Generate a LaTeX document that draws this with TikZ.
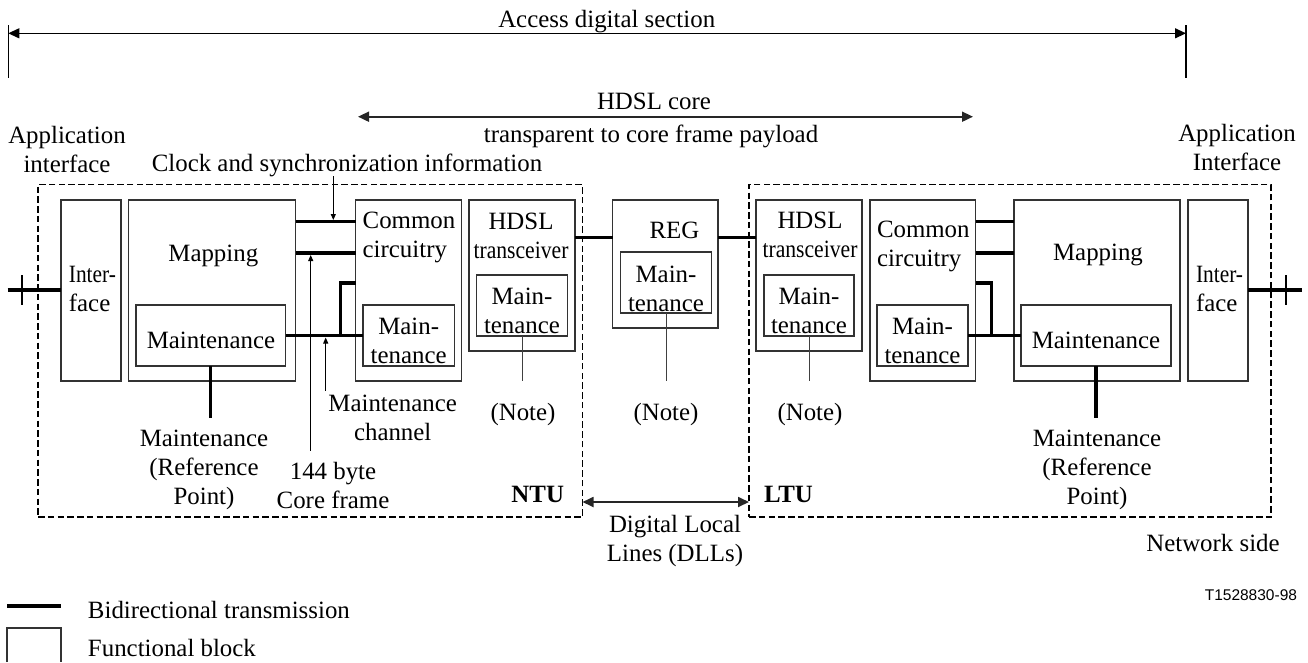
\documentclass[tikz,border=0pt]{standalone}
\usepackage{fontspec}
\setmainfont{Liberation Serif}
\setsansfont{Liberation Sans}
\usetikzlibrary{arrows.meta}
\begin{document}
\begin{tikzpicture}
[x=0.4pt,y=-0.4pt,
  font=\fontsize{9.95}{11.6}\selectfont,
  every node/.style={inner sep=0pt,outer sep=0pt},
  blockdecorate/.style={shape=rectangle,draw=black!80,line width=0.5pt},%
  unitdecorate/.style={shape=rectangle,draw,line width=0.55pt,dash pattern=on 2.6pt off 1.3pt},%
  textdecorate/.style={align=center},%
  bidirdecorate/.style={-,line width=1.35pt},%
  notedecorate/.style={-,line width=0.4pt,black!75},%
  tickdecorate/.style={-,line width=0.45pt},%
  pointdecorate/.style={-{Triangle[length=2.4pt,width=2pt]},line width=0.4pt},%
  spandecorate/.style={{Triangle[length=4.4pt,width=4pt]}-{Triangle[length=4.4pt,width=4pt]},line width=0.5pt}]
\useasboundingbox (0,0) rectangle (1308,662);
%% NTU and LTU frames
\foreach \nodename/\xa/\ya/\xb/\yb in {
  ntu/38/184.5/582.5/517, ltu/749/184.5/1271/517}
{
  \node (\nodename) at ({(\xa+\xb)/2},{(\ya+\yb)/2}) [unitdecorate,
    minimum width={(\xb-\xa)*0.4pt}, minimum height={(\yb-\ya)*0.4pt}] {};
}
%% functional blocks
\foreach \nodename/\xa/\ya/\xb/\yb in {
  ifl/61/200/121/381, mapl/128.5/200/295.5/381, mapml/136/305/285.5/366,
  coml/355.5/200/461.5/381, comml/363/305/454.5/366,
  hdl/469/200/575/351, hdml/476.5/275/567.5/336,
  reg/612.5/200/718/328, regm/620.5/252/711.5/313,
  hdr/756/200/862/351, hdmr/764/275/854/336,
  comr/870/200/975.5/381, commr/877/305/968/366,
  mapr/1014/200/1180/381, mapmr/1021/305/1171/366,
  ifr/1188/200/1248/381}
{
  \node (\nodename) at ({(\xa+\xb)/2},{(\ya+\yb)/2}) [blockdecorate,
    minimum width={(\xb-\xa)*0.4pt}, minimum height={(\yb-\ya)*0.4pt}] {};
}
%% block texts
\node (iflname) at (68.9,289) [anchor=west,align=left] {\scalebox{0.86}[1]{Inter-}\\face};
\node (maplname) at (213.3,256) {Mapping};
\node (mapmlname) at (211,340) {Maintenance};
\node (comlname) at (362.7,237) [anchor=west,align=left] {Common\\circuitry};
\node (commlname) at (408.7,341) [textdecorate] {Main-\\tenance};
\node (hdlname) at (521,236) [textdecorate] {HDSL\\\scalebox{0.87}[1]{transceiver}};
\node (hdmlname) at (522,311) [textdecorate] {Main-\\tenance};
\node (regname) at (674.5,230) {REG};
\node (regmname) at (666,289) [textdecorate] {Main-\\tenance};
\node (hdrname) at (810,235) [textdecorate] {HDSL\\\scalebox{0.87}[1]{transceiver}};
\node (hdmrname) at (809,311) [textdecorate] {Main-\\tenance};
\node (comrname) at (877,246) [anchor=west,align=left] {Common\\circuitry};
\node (commrname) at (922.5,341) [textdecorate] {Main-\\tenance};
\node (maprname) at (1098,255) {Mapping};
\node (mapmrname) at (1096,340) {Maintenance};
\node (ifrname) at (1196,289) [anchor=west,align=left] {\scalebox{0.86}[1]{Inter-}\\face};
%% other texts
\node (adstxt) at (606.7,21.7) {Access digital section};
\node (coretxt) at (654,101.7) {HDSL core};
\node (payloadtxt) at (651,136) {transparent to core frame payload};
\node (appltxt) at (67,149) [textdecorate] {Application\\interface};
\node (apprtxt) at (1237,147.5) [textdecorate] {Application\\Interface};
\node (clocktxt) at (347,165) {Clock and synchronization information};
\node (refltxt) at (204,470) [textdecorate] {Maintenance\\(Reference\\Point)};
\node (refrtxt) at (1097,470) [textdecorate] {Maintenance\\(Reference\\Point)};
\node (chantxt) at (392.7,417.5) [textdecorate] {Maintenance\\channel};
\node (frametxt) at (333,485) [textdecorate] {144 byte\\Core frame};
\node (notel) at (523,415) {(Note)};
\node (notem) at (666,415) {(Note)};
\node (noter) at (810,415) {(Note)};
\node (ntutxt) at (564,494) [anchor=east] {\bfseries NTU};
\node (ltutxt) at (764,494) [anchor=west] {\bfseries LTU};
\node (dlltxt) at (675,541.5) [textdecorate] {Digital Local\\Lines (DLLs)};
\node (nettxt) at (1213,543) {Network side};
\node (figtxt) at (1297,595) [anchor=east,font=\sffamily\fontsize{6.2}{7}\selectfont] {T1528830-98};
\node (bidirtxt) at (88,610) [anchor=west] {Bidirectional transmission};
\node (blocktxt) at (88,648) [anchor=west] {Functional block};
%% levels and free ends
\coordinate (clklvl) at (0,221.7);
\coordinate (frmlvl) at (0,253);
\coordinate (chnlvl) at (0,283);
\coordinate (dlllvl) at (0,237.7);
\coordinate (applvl) at (0,290);
\coordinate (notelvl) at (0,381);
\coordinate (reflvl) at (0,418);
\coordinate (chnjl) at (340.2,335.5);
\coordinate (chnjr) at (991.8,335.5);
\coordinate (appl) at (7.7,290);
\coordinate (appr) at (1302,290);
\coordinate (clockhit) at (333.3,220);
\coordinate (framehit) at (310.7,255);
\coordinate (chanhit) at (325.7,337.5);
\coordinate (adsl) at (8.3,33.3);
\coordinate (adsr) at (1186,33.3);
\coordinate (corel) at (358,116.7);
\coordinate (corer) at (973,116.7);
\coordinate (dllarrow) at (0,502);
%% bidirectional transmission
\path
\foreach \startnode/\endnode/\lvl in {
  mapl.east/coml.west/clklvl, mapl.east/coml.west/frmlvl,
  comr.east/mapr.west/clklvl, comr.east/mapr.west/frmlvl,
  hdl.east/reg.west/dlllvl, reg.east/hdr.west/dlllvl,
  appl/ifl.west/applvl, ifr.east/appr/applvl} {
  (\startnode |- \lvl) edge[bidirdecorate] (\endnode |- \lvl)
};
\path (mapml.east) edge[bidirdecorate] (comml.west)
  (commr.east) edge[bidirdecorate] (mapmr.west)
  (mapml.south) edge[bidirdecorate] (mapml.south |- reflvl)
  (mapmr.south) edge[bidirdecorate] (mapmr.south |- reflvl);
\draw[bidirdecorate] (coml.west |- chnlvl) -| (chnjl);
\draw[bidirdecorate] (comr.east |- chnlvl) -| (chnjr);
\draw[tickdecorate,line width=0.8pt] (appl) ++(14.5,-15) -- ++(0,30);
\draw[tickdecorate,line width=0.8pt] (appr) ++(-16.4,-15) -- ++(0,30);
%% note lines
\path
\foreach \startnode in {hdml, regm, hdmr} {
  (\startnode.south) edge[notedecorate] (\startnode.south |- notelvl)
};
%% pointers
\draw[pointdecorate] (clocktxt.south -| clockhit) -- (clockhit);
\draw[pointdecorate] ([yshift=4.4pt]frametxt.north -| framehit) -- (framehit);
\draw[pointdecorate] ([yshift=1.5pt]chantxt.north -| chanhit) -- (chanhit);
%% spans
\draw[spandecorate] (adsl) -- (adsr);
\draw[tickdecorate] (adsl) ++(0,-8.3) -- ++(0,53);
\draw[tickdecorate] (adsr) ++(0,-8.3) -- ++(0,53);
\draw[spandecorate,line width=0.7pt,black!85] (corel) -- (corer);
\draw[spandecorate,line width=0.7pt,black!85] (ntu.east |- dllarrow) -- (ltu.west |- dllarrow);
%% legend
\draw[bidirdecorate] (7,606) -- (61,606);
\draw[draw=black!80,line width=0.5pt] (7,662) -- (7,628) -- (61,628) -- (61,662);
\end{tikzpicture}
\end{document}
